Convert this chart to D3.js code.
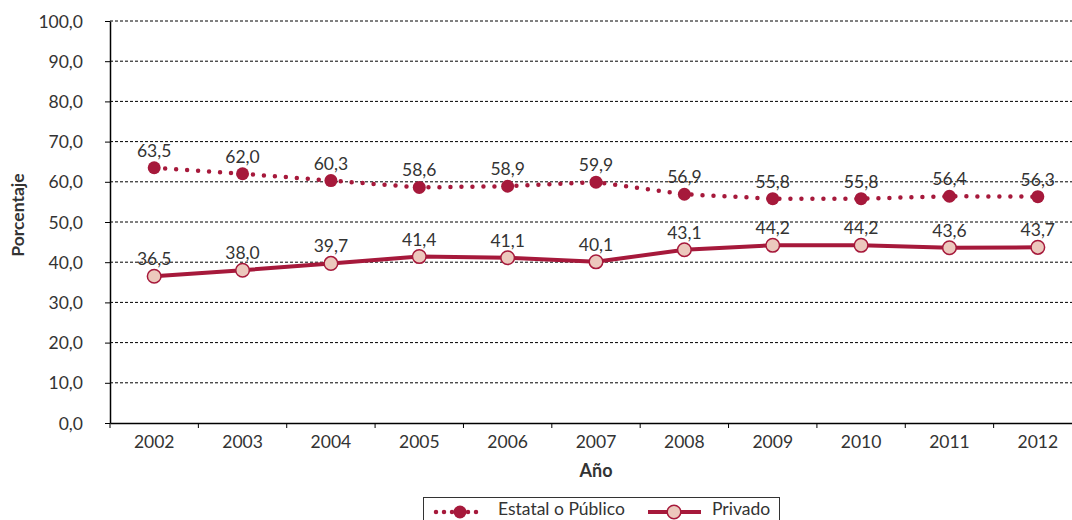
<!DOCTYPE html>
<html><head><meta charset="utf-8">
<script src="https://cdn.jsdelivr.net/npm/d3@7"></script>
<style>
body{margin:0;background:#fff;}
text{font-family:Lato,"Noto Sans",sans-serif;fill:#333;}
</style></head>
<body><svg id="c" width="1072" height="520"></svg>
<script>
const years=["2002","2003","2004","2005","2006","2007","2008","2009","2010","2011","2012"];
const estatal=[63.5,62.0,60.3,58.6,58.9,59.9,56.9,55.8,55.8,56.4,56.3];
const privado=[36.5,38.0,39.7,41.4,41.1,40.1,43.1,44.2,44.2,43.6,43.7];
const yTicks=[0,10,20,30,40,50,60,70,80,90,100];
const seriesNames=["Estatal o Público","Privado"];

const red="#a6193b", pink="#ecc8bd";
const svg=d3.select("#c");
const L=110,R=1082,T=21,B=423;
const x=d3.scaleBand().domain(years).range([L,R]);
const y=d3.scaleLinear().domain([0,100]).range([B,T]);
const fmt=v=>d3.format(".1f")(v).replace(".",",");

// gridlines
svg.append("g").selectAll("line").data(yTicks.filter(d=>d>0)).join("line")
 .attr("x1",L).attr("x2",R).attr("y1",d=>y(d)).attr("y2",d=>y(d))
 .attr("stroke","#000").attr("stroke-width",1).attr("stroke-dasharray","3,2");

// y axis
const ya=svg.append("g").attr("transform",`translate(${L},0)`)
 .call(d3.axisLeft(y).tickValues(yTicks).tickFormat(fmt).tickSize(5).tickSizeOuter(0));
ya.select(".domain").attr("stroke","#000").attr("stroke-width",1.5);
ya.selectAll(".tick line").attr("stroke","#000");
ya.selectAll(".tick text").attr("font-size",17.5).attr("x",-27).attr("dy","0.35em").attr("fill","#333");

// x axis
const xa=svg.append("g").attr("transform",`translate(0,${B})`)
 .call(d3.axisBottom(x).tickSize(0).tickSizeOuter(0));
xa.select(".domain").attr("stroke","#000").attr("stroke-width",1.5);
xa.selectAll(".tick text").attr("font-size",17.5).attr("y",13).attr("dy","0.71em").attr("fill","#333");
svg.append("g").selectAll("line").data(years).join("line")
 .attr("x1",d=>x(d)).attr("x2",d=>x(d)).attr("y1",B).attr("y2",B+5).attr("stroke","#000");

const cx=d=>x(d)+x.bandwidth()/2;
const line=d3.line().x((d,i)=>cx(years[i])).y(d=>y(d));

// Estatal
svg.append("path").datum(estatal).attr("d",line).attr("fill","none")
 .attr("stroke",red).attr("stroke-width",4.5).attr("stroke-linecap","round").attr("stroke-dasharray","0,11");
svg.append("g").selectAll("circle").data(estatal).join("circle")
 .attr("cx",(d,i)=>cx(years[i])).attr("cy",d=>y(d)).attr("r",6.5).attr("fill",red);
// Privado
svg.append("path").datum(privado).attr("d",line).attr("fill","none")
 .attr("stroke",red).attr("stroke-width",4);
svg.append("g").selectAll("circle").data(privado).join("circle")
 .attr("cx",(d,i)=>cx(years[i])).attr("cy",d=>y(d)).attr("r",6.8).attr("fill",pink)
 .attr("stroke",red).attr("stroke-width",1.5);

// labels
[estatal,privado].forEach(s=>{
 svg.append("g").selectAll("text").data(s).join("text")
  .attr("x",(d,i)=>cx(years[i])).attr("y",d=>y(d)-11)
  .attr("text-anchor","middle").attr("font-size",17.5).text(fmt);
});

// axis titles
svg.append("text").attr("transform","translate(24,215) rotate(-90)")
 .attr("text-anchor","middle").attr("font-size",17.5).attr("font-weight","bold").attr("fill","#222").text("Porcentaje");
svg.append("text").attr("x",596).attr("y",477).attr("text-anchor","middle")
 .attr("font-size",18).attr("font-weight","bold").attr("fill","#222").text("Año");

// legend
const lg=svg.append("g");
lg.append("rect").attr("x",423.5).attr("y",497.5).attr("width",356).attr("height",40)
 .attr("fill","#fff").attr("stroke","#333").attr("stroke-width",1);
lg.append("line").attr("x1",436).attr("x2",484).attr("y1",512).attr("y2",512)
 .attr("stroke",red).attr("stroke-width",4.5).attr("stroke-linecap","round").attr("stroke-dasharray","0,8");
lg.append("circle").attr("cx",460).attr("cy",512).attr("r",6.5).attr("fill",red);
lg.append("text").attr("x",498).attr("y",515).attr("font-size",17.5).text(seriesNames[0]);
lg.append("line").attr("x1",648).attr("x2",701).attr("y1",512).attr("y2",512)
 .attr("stroke",red).attr("stroke-width",4);
lg.append("circle").attr("cx",674).attr("cy",512).attr("r",6.8).attr("fill",pink).attr("stroke",red).attr("stroke-width",1.5);
lg.append("text").attr("x",712).attr("y",515).attr("font-size",17.5).text(seriesNames[1]);
</script></body></html>
